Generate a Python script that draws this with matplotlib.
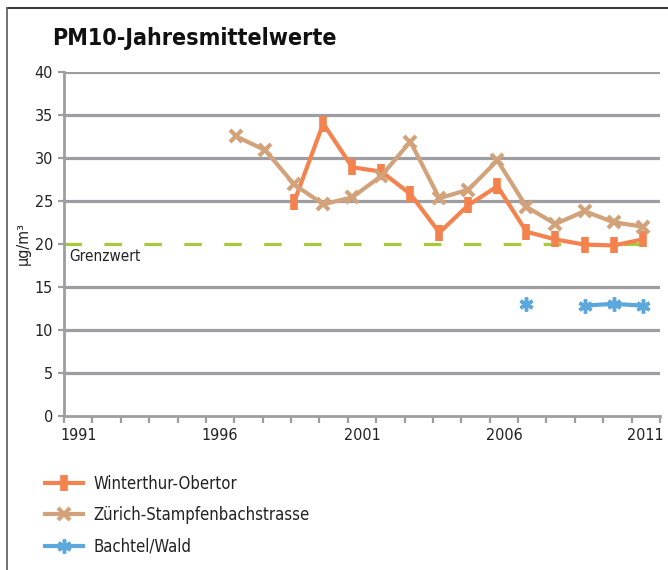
import numpy as np
import matplotlib.pyplot as plt
from matplotlib.lines import Line2D

plt.rcParams['font.family'] = ['DejaVu Sans']
plt.rcParams['font.stretch'] = 'condensed'

# data
years_w = [1999, 2000, 2001, 2002, 2003, 2004, 2005, 2006, 2007, 2008, 2009, 2010, 2011]
winterthur = [24.9, 34.0, 28.9, 28.4, 25.8, 21.3, 24.5, 26.7, 21.4, 20.5, 19.9, 19.8, 20.5]

years_z = list(range(1997, 2012))
zuerich = [32.5, 30.9, 26.9, 24.6, 25.4, 27.9, 31.9, 25.3, 26.3, 29.7, 24.3, 22.3, 23.8, 22.5, 22.0]

years_b = [2007, 2008, 2009, 2010, 2011]
bachtel = [13.0, np.nan, 12.8, 13.0, 12.8]

grenzwert = 20
categories = list(range(1991, 2012))
tick_labels = [str(y) if (y - 1991) % 5 == 0 else '' for y in categories]

c_w = '#F4824F'
c_z = '#D2A27A'
c_b = '#5CA8DD'
c_g = '#A5CB3C'
c_grid = '#9E9EA2'

fig = plt.figure(figsize=(6.68, 5.70), dpi=100)
ax = fig.add_axes([64 / 668, 1 - 415.5 / 570, 596 / 668, 343.5 / 570])

# category axis (ticks on boundaries, labels in centre)
ax.set_xlim(categories[0] - 0.5, categories[-1] + 0.5)
ax.set_xticks(np.arange(categories[0] - 0.5, categories[-1] + 1))
ax.set_xticklabels([])
ax.set_xticks(categories, minor=True)
ax.set_xticklabels(tick_labels, minor=True)
ax.tick_params(axis='x', which='major', length=5, width=1.6, color=c_grid)
ax.tick_params(axis='x', which='minor', length=0, pad=9, labelsize=11.5, labelcolor='#222222')

ax.set_ylim(0, 40)
ax.set_yticks(np.arange(0, 41, 5))
ax.tick_params(axis='y', length=4, width=1.6, color=c_grid, pad=4, labelsize=11.5, labelcolor='#222222')
for v in np.arange(5, 41, 5):
    if v != grenzwert:
        ax.axhline(v, color=c_grid, lw=2.3, zorder=1)

for s in ['top', 'right']:
    ax.spines[s].set_visible(False)
for s in ['left', 'bottom']:
    ax.spines[s].set_color(c_grid)
    ax.spines[s].set_linewidth(2.0)

ax.axhline(grenzwert, color=c_g, lw=2.3, dashes=(5.5, 7), zorder=2)
ax.text(1990.7, grenzwert - 0.6, 'Grenzwert', ha='left', va='top', fontsize=11, color='#222222')
ax.set_ylabel('µg/m³', fontsize=11.5, labelpad=3, color='#222222')

# data axis (point spacing slightly differs from category axis, as in the original)
axd = ax.twiny()
axd.set_xlim(1991.07, 2011.6)
axd.set_ylim(0, 40)
axd.axis('off')

axd.plot(years_w, winterthur, color=c_w, lw=3, marker='|', ms=12, mew=5.5,
         label='Winterthur-Obertor', zorder=3)
axd.plot(years_z, zuerich, color=c_z, lw=3, marker='x', ms=8.5, mew=3,
         label='Zürich-Stampfenbachstrasse', zorder=4)
axd.plot(years_b, bachtel, color=c_b, lw=3, marker=(6, 2, 0), ms=10, mew=2.5,
         label='Bachtel/Wald', zorder=3)

h, l = axd.get_legend_handles_labels()
fig.legend(h, l, loc='upper left', bbox_to_anchor=(0.045, 1 - 460 / 570), frameon=False,
           fontsize=12, handlelength=2.3, labelspacing=0.8, handletextpad=0.6,
           labelcolor='#222222')

fig.text(52 / 668, 1 - 38 / 570, 'PM10-Jahresmittelwerte', fontsize=16.7, fontweight='bold',
         va='center', ha='left', color='#111111')

# outer frame lines
fig.add_artist(Line2D([7 / 668, 1], [1 - 8 / 570, 1 - 8 / 570], color='#222222', lw=1.3))
fig.add_artist(Line2D([7 / 668, 7 / 668], [0, 1 - 8 / 570], color='#666666', lw=1.3))

fig.savefig('out.png', dpi=100)
